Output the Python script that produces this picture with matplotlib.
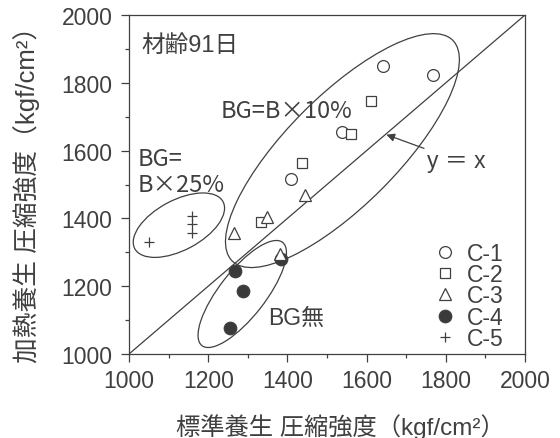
import numpy as np
import matplotlib
matplotlib.use("Agg")
import matplotlib.pyplot as plt
from matplotlib.patches import Ellipse
from matplotlib.transforms import ScaledTranslation

plt.rcParams['font.family'] = ['Liberation Sans', 'Noto Sans CJK JP', 'DejaVu Sans']

INK = '#404040'

# 標準養生 (x) vs 加熱養生 (y) compressive strength, kgf/cm2
c1_x = [1642, 1768, 1537, 1409]
c1_y = [1850, 1823, 1654, 1516]
c2_x = [1612, 1560, 1438, 1333]
c2_y = [1747, 1649, 1563, 1390]
c3_x = [1444, 1349, 1265, 1381]
c3_y = [1469, 1403, 1356, 1295]
c4_x = [1383, 1268, 1287, 1254]
c4_y = [1280, 1246, 1187, 1076]
c5_x = [1051, 1158, 1158, 1158]
c5_y = [1330, 1408, 1383, 1358]

lims = [1000, 2000]
ticks = [1000, 1200, 1400, 1600, 1800, 2000]

fig = plt.figure(figsize=(5.6, 4.39), dpi=100)
ax = fig.add_axes([129 / 560, 1 - 355 / 439, 396 / 560, 339 / 439])

# reference line y = x
ax.plot(lims, lims, color=INK, lw=0.9, zorder=1)

mk = dict(linestyle='none', markeredgewidth=0.9, markeredgecolor=INK, zorder=3)
ax.plot(c4_x, c4_y, 'o', ms=9, markerfacecolor='#3a3a3a', label='C-4', **mk)
ax.plot(c1_x, c1_y, 'o', ms=8.5, markerfacecolor='white', label='C-1', **mk)
ax.plot(c2_x, c2_y, 's', ms=7.5, markerfacecolor='white', label='C-2', **mk)
ax.plot(c3_x, c3_y, '^', ms=8.5, markerfacecolor='white', label='C-3', **mk)
ax.plot(c5_x, c5_y, '+', ms=7, label='C-5', **mk)


def group_ellipse(cx, cy, w, h, angle):
    # fixed-size outline (inches) centred on a data point
    tr = fig.dpi_scale_trans + ScaledTranslation(cx, cy, ax.transData)
    ax.add_patch(Ellipse((0, 0), w, h, angle=angle, transform=tr,
                         fill=False, edgecolor=INK, lw=0.9, zorder=2))


group_ellipse(1539, 1600, 3.12, 1.10, 45)   # BG=B×10%
group_ellipse(1126, 1380, 1.00, 0.50, 28)   # BG=B×25%
group_ellipse(1286, 1177, 1.31, 0.46, 52)   # BG無

tkw = dict(color=INK)
jp = ['Noto Sans CJK JP']
ax.text(1031, 1911, '材齢91日', fontsize=17, va='center', ha='left', **tkw)
ax.text(1398, 1718, 'BG=B×10%', fontsize=17, va='center', ha='center',
        family=jp, **tkw)
ax.text(1022, 1577, 'BG=', fontsize=17, va='center', ha='left',
        family=jp, **tkw)
ax.text(1022, 1499, 'B×25%', fontsize=17, va='center', ha='left',
        family=jp, **tkw)
ax.text(1421, 1109, 'BG無', fontsize=16.5, va='center', ha='center', **tkw)
ax.annotate('y ＝ x', xy=(1650, 1647), xytext=(1752, 1572),
            fontsize=16.5, color=INK, ha='left', va='center',
            arrowprops=dict(arrowstyle='-|>', color=INK, lw=0.9,
                            mutation_scale=12, shrinkA=0, shrinkB=0))

ax.set_xlim(lims)
ax.set_ylim(lims)
ax.set_xticks(ticks)
ax.set_yticks(ticks)
ax.set_xticks(np.arange(1100, 2000, 200), minor=True)
ax.set_yticks(np.arange(1100, 2000, 200), minor=True)
ax.tick_params(which='major', direction='out', length=6, width=0.9,
               colors=INK, labelsize=16.5)
ax.tick_params(axis='y', which='major', pad=6)
ax.tick_params(axis='x', which='major', pad=5)
ax.tick_params(which='minor', direction='out', length=3, width=0.9, colors=INK)
for s in ax.spines.values():
    s.set_color(INK)
    s.set_linewidth(0.9)

ax.set_xlabel('標準養生 圧縮強度（kgf/cm²）', fontsize=17.5, color=INK)
ax.set_ylabel('加熱養生 圧縮強度（kgf/cm²）', fontsize=18.5, color=INK)
ax.xaxis.set_label_coords(0.535, -0.175)
ax.yaxis.set_label_coords(-0.225, 0.49)

handles, labels = ax.get_legend_handles_labels()
order = [labels.index(k) for k in ['C-1', 'C-2', 'C-3', 'C-4', 'C-5']]
ax.legend([handles[i] for i in order], [labels[i] for i in order],
          loc='lower right', bbox_to_anchor=(0.945, 0.011), frameon=False,
          fontsize=16.5, handlelength=0.8, handletextpad=0.55,
          labelspacing=-0.07, borderpad=0, borderaxespad=0,
          labelcolor=INK)

fig.savefig('out.png', dpi=100, facecolor='white')
